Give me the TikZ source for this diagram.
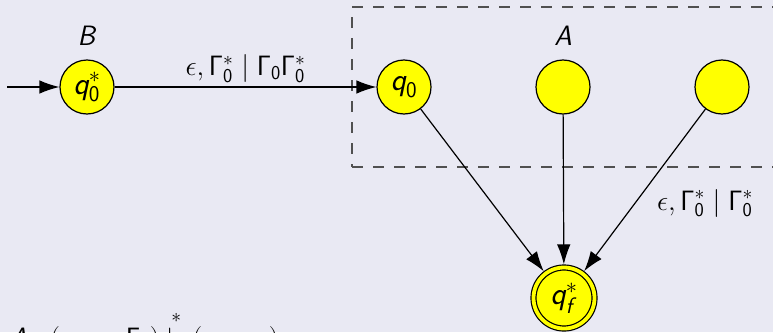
\RequirePackage{fix-cm}
\documentclass[tikz,border=0pt]{standalone}
\usepackage{amsmath}
\usetikzlibrary{arrows.meta}
\definecolor{bgcol}{RGB}{233,233,243}
\definecolor{stateyellow}{RGB}{255,255,0}
\definecolor{dashgray}{RGB}{80,80,80}
\newcommand\sfit[1]{\text{\sffamily\itshape #1}}
\newcommand\Gm{\mathsf{\Gamma}}
\newcommand\zr{\mathsf{0}}
\tikzset{
  every node/.style={font=\fontsize{28}{33}\selectfont},
  state/.style={circle, draw=black, fill=stateyellow, line width=1.2pt, minimum size=54pt, inner sep=0pt, font=\fontsize{32}{36}\selectfont},
  acceptstate/.style={circle, draw=black, fill=stateyellow, line width=1.2pt, double=stateyellow, double distance=3.8pt, minimum size=61pt, inner sep=0pt, outer sep=3.1pt, font=\fontsize{32}{36}\selectfont},
  edgearrow/.style={-{Latex[length=20pt,width=13.5pt]}, line width=1.2pt, draw=black},
  dashbox/.style={draw=dashgray, line width=1.3pt, dash pattern=on 11pt off 10pt}
}
\begin{document}
\begin{tikzpicture}[x=1pt,y=-1pt]
\useasboundingbox[fill=bgcol] (0,0) rectangle (773,332);
% dashed box
\draw[dashbox] (352,7) -- (790,7);
\draw[dashbox] (352,167) -- (790,167);
\draw[dashbox, dash phase=11pt] (352,7) -- (352,167);
% labels
\node (lb) at (87,36) {\textsf{\textit{B}}};
\node (la) at (563,36) {\textsf{\textit{A}}};
% states
\node[state] (q0s) at (87,87) {$\sfit{q}_{\zr}^{*}$};
\node[state] (q0) at (404,87) {$\sfit{q}_{\zr}$};
\node[state] (a2) at (563,87) {};
\node[state] (a3) at (722,87) {};
\node[acceptstate] (qf) at (564,298) {$\sfit{q}_{\sfit{f}}^{*}$};
% edges
\coordinate (init) at (7,87);
\draw[edgearrow] (init) -- (q0s);
\draw[edgearrow] (q0s) -- node[above, inner sep=4pt] (lab1) {$\epsilon, \Gm_{\zr}^{*} \mid \Gm_{\zr}\Gm_{\zr}^{*}$} (q0);
\draw[edgearrow] (q0) -- (qf);
\draw[edgearrow] (a2) -- (qf);
\draw[edgearrow] (a3) -- node[pos=0.58, anchor=west, xshift=18pt] (lab2) {$\epsilon, \Gm_{\zr}^{*} \mid \Gm_{\zr}^{*}$} (qf);
% bottom text (cut off in the reference)
\node[anchor=base west, inner sep=0pt] (bottomtext) at (10,347) {$\textsf{\textit{A}}: (\sfit{q}_{\zr}, \sfit{w}, \Gm_{\zr}) \overset{*}{\vdash} (\sfit{q}_{\sfit{f}}, \epsilon, \epsilon)$};
\end{tikzpicture}
\end{document}
